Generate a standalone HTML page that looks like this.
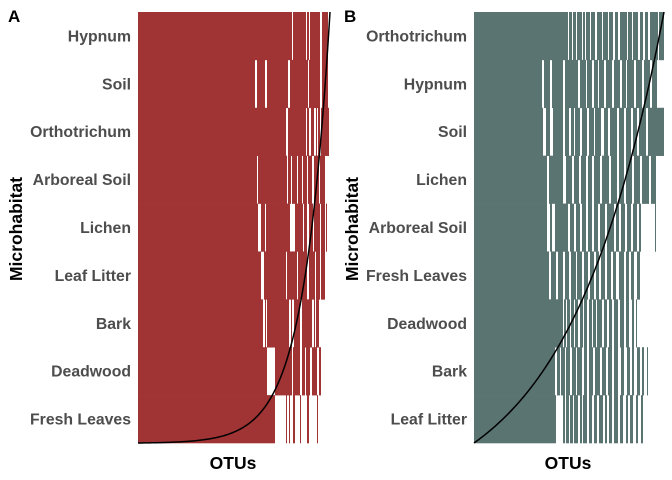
<!DOCTYPE html>
<html><head><meta charset="utf-8">
<style>
body{margin:0;background:#fff;}
svg{display:block;font-family:"Liberation Sans",sans-serif;}
.lab{font-size:15.8px;font-weight:bold;fill:#4d4d4d;}
.tit{font-size:17.5px;font-weight:bold;fill:#000;}
.let{font-size:17px;font-weight:bold;fill:#000;}
</style></head>
<body>
<svg id="chart" width="672" height="480"></svg>
<script>
// Panel A data
const rowsA = ["Hypnum","Soil","Orthotrichum","Arboreal Soil","Lichen","Leaf Litter","Bark","Deadwood","Fresh Leaves"];
const segsA = [
 [[0,154],[155,168],[169,171],[172,182],[184,190]],
 [[0,117],[119,127],[129,150],[152,170],[171,182],[184,190]],
 [[0,148],[150,168],[169,171],[173,176],[178,179],[180,182],[183,191]],
 [[0,119],[120,149],[150,153],[154,159],[160,164],[165,169],[170,174],[176,181],[182,187]],
 [[0,120],[123,127],[128,152],[157,165],[166,169],[171,175],[176,182],[183,187],[188,189]],
 [[0,123],[126,148],[149,159],[160,169],[171,177],[178,182],[183,187]],
 [[0,125],[127,128],[129,151],[153,154],[156,162],[164,174],[176,177],[178,181]],
 [[0,129],[137,154],[155,162],[164,167],[168,172],[174,179],[181,183]],
 [[0,137],[148,149],[151,152],[155,157],[162,163],[169,171],[179,180]]
];
// Panel B data
const rowsB = ["Orthotrichum","Hypnum","Soil","Lichen","Arboreal Soil","Fresh Leaves","Deadwood","Bark","Leaf Litter"];
const segsB = [
 [[0,94],[95,98],[99,102],[103,108],[109,111],[112,116],[117,121],[123,128],[129,134],[135,139],[141,144],[146,153],[154,158],[159,164],[166,169],[171,174],[176,184],[185,190]],
 [[0,68],[70,76],[78,89],[91,104],[106,112],[113,118],[120,124],[125,130],[132,138],[140,146],[148,152],[153,160],[162,168],[170,176],[178,183]],
 [[0,69],[72,76],[79,89],[91,95],[97,100],[101,106],[108,113],[115,120],[121,127],[130,134],[136,143],[145,150],[152,157],[159,163],[165,172],[174,190]],
 [[0,73],[75,89],[92,98],[100,105],[107,112],[114,118],[120,126],[128,135],[137,143],[145,150],[152,158],[160,166],[168,175],[177,182]],
 [[0,73],[76,78],[81,94],[96,100],[102,106],[108,112],[114,118],[120,124],[126,131],[133,140],[142,145],[147,151],[153,157],[159,163],[165,167],[181,182]],
 [[0,75],[77,82],[84,89],[91,95],[97,102],[103,108],[110,114],[116,120],[122,125],[127,131],[133,137],[139,142],[145,150],[152,155],[157,160],[163,166]],
 [[0,89],[90,92],[93,96],[97,100],[101,104],[106,109],[110,113],[115,118],[119,122],[123,128],[130,133],[135,138],[140,144],[146,150],[152,155],[158,160],[162,163]],
 [[0,81],[83,86],[87,91],[92,96],[98,102],[103,108],[110,113],[115,119],[121,126],[128,132],[134,138],[140,144],[147,150],[153,156],[158,160],[163,166],[168,170],[173,174]],
 [[0,82],[89,91],[92,95],[96,99],[100,104],[106,108],[109,113],[115,118],[120,123],[125,129],[131,133],[135,138],[140,144],[146,149],[152,154],[156,159],[162,164],[167,169]]
];
const curveK = [7.3, 2];

const NS="http://www.w3.org/2000/svg";
const svg=document.getElementById('chart');
function mk(tag,attrs,parent){const e=document.createElementNS(NS,tag);for(const k in attrs)e.setAttribute(k,attrs[k]);(parent||svg).appendChild(e);return e;}

function panel(x0,domainMax,width,rows,segs,color,k,letter){
  const g=mk('g',{});
  
  
  const top=12,bottom=443,rh=(bottom-top)/rows.length;
  const xs=v=>x0+v*width/domainMax;
  rows.forEach((r,i)=>{
    const y=top+i*rh;
    segs[i].forEach((s,j)=>{
      const rect=mk('rect',{x:xs(s[0]),y:y,width:Math.max(0.8,xs(s[1])-xs(s[0])),height:rh+0.3,fill:color},g);
      
      
    });
    const t=mk('text',{x:x0-7,y:y+rh/2+5.5,'text-anchor':'end',class:'lab'});
    t.textContent=r;
    
    
  });
  let d='';
  const xEnd=x0+width;
  for(let n=0;n<=200;n++){const t=n/200;const f=(Math.exp(k*t)-1)/(Math.exp(k)-1);
    d+=(n?'L':'M')+(x0+t*(xEnd-x0)).toFixed(2)+','+(bottom-f*(bottom-top)).toFixed(2);}
  const p=mk('path',{d:d,fill:'none',stroke:'#000','stroke-width':1.5},g);
  
  
  const L=mk('text',{x:x0-130,y:22,class:'let'});L.textContent=letter;
  
  
  const xt=mk('text',{x:x0+width/2-1,y:469,'text-anchor':'middle',class:'tit'});xt.textContent='OTUs';
  
  
  const yt=mk('text',{x:0,y:0,'text-anchor':'middle',class:'tit',transform:`translate(${x0-116},229) rotate(-90)`});yt.textContent='Microhabitat';
  
  
}
panel(138,192,192,rowsA,segsA,'#a03333',curveK[0],'A');
panel(474,190,190,rowsB,segsB,'#5a7471',curveK[1],'B');
</script>
</body></html>
